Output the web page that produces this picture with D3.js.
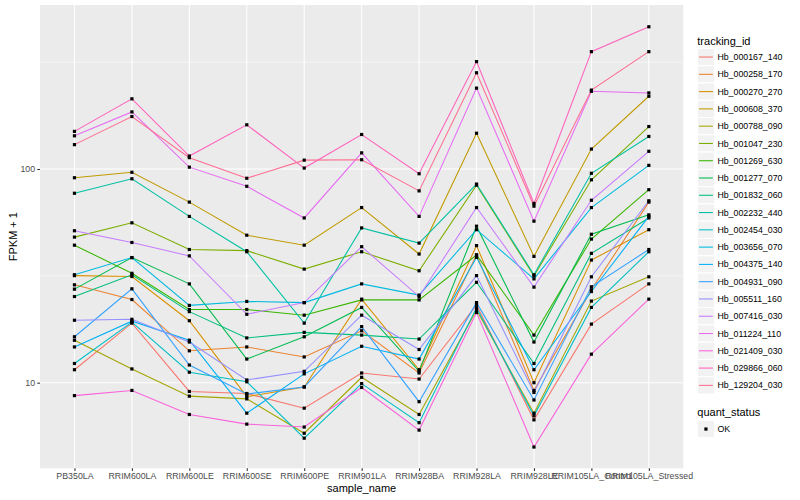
<!DOCTYPE html>
<html>
<head>
<meta charset="utf-8">
<script src="https://cdn.jsdelivr.net/npm/d3@7"></script>
<style>
  html, body { margin: 0; padding: 0; background: #fff; }
  svg { display: block; }
  text { font-family: "Liberation Sans", Arial, Helvetica, sans-serif; }
</style>
</head>
<body>
<svg id="chart" width="800" height="500"></svg>
<script>
// ---- data ----
const samples = ["PB350LA", "RRIM600LA", "RRIM600LE", "RRIM600SE", "RRIM600PE", "RRIM901LA",
  "RRIM928BA", "RRIM928LA", "RRIM928LE", "RRIM105LA_Control", "RRIM105LA_Stressed"];

const trackingIds = ["Hb_000167_140", "Hb_000258_170", "Hb_000270_270", "Hb_000608_370", "Hb_000788_090",
  "Hb_001047_230", "Hb_001269_630", "Hb_001277_070", "Hb_001832_060", "Hb_002232_440",
  "Hb_002454_030", "Hb_003656_070", "Hb_004375_140", "Hb_004931_090", "Hb_005511_160",
  "Hb_007416_030", "Hb_011224_110", "Hb_021409_030", "Hb_029866_060", "Hb_129204_030"];

// FPKM + 1 per sample (same order as samples)
const Hb_000167_140 = [11.5, 19.0, 9.1, 8.9, 7.6, 11.1, 10.4, 23.1, 6.7, 18.8, 29.0];
const Hb_000258_170 = [28.7, 24.5, 14.1, 14.7, 13.2, 17.5, 11.1, 39.6, 9.2, 27.2, 70.0];
const Hb_000270_270 = [31.7, 31.4, 19.5, 8.6, 9.55, 24.6, 11.5, 43.8, 10.0, 37.5, 52.0];
const Hb_000608_370 = [91.0, 96.5, 70.0, 49.0, 44.0, 66.0, 40.0, 147.0, 39.0, 124.0, 219.0];
const Hb_000788_090 = [15.8, 11.6, 8.65, 8.4, 5.8, 10.6, 7.1, 21.9, 7.2, 24.1, 31.3];
const Hb_001047_230 = [48.0, 56.0, 42.0, 41.5, 34.0, 41.0, 33.4, 84.0, 31.6, 89.0, 158.0];
const Hb_001269_630 = [44.0, 32.5, 22.0, 22.0, 20.7, 24.4, 24.4, 39.6, 16.7, 47.0, 80.0];
const Hb_001277_070 = [27.4, 38.5, 29.0, 12.9, 16.4, 22.5, 11.3, 54.0, 15.5, 49.5, 61.0];
const Hb_001832_060 = [25.3, 32.0, 21.5, 16.2, 17.2, 16.7, 16.0, 29.5, 12.3, 40.3, 59.0];
const Hb_002232_440 = [77.0, 90.0, 60.0, 41.0, 19.0, 53.0, 45.0, 85.0, 32.0, 95.5, 142.0];
const Hb_002454_030 = [12.3, 19.2, 11.2, 10.1, 5.5, 9.9, 6.5, 22.4, 7.0, 22.5, 41.0];
const Hb_003656_070 = [32.0, 38.5, 23.0, 24.0, 23.7, 29.0, 25.7, 52.0, 30.6, 66.0, 104.0];
const Hb_004375_140 = [14.7, 19.4, 15.8, 7.2, 11.0, 14.8, 12.9, 38.6, 11.5, 26.7, 60.0];
const Hb_004931_090 = [16.4, 27.5, 12.1, 8.85, 9.55, 18.3, 8.15, 23.7, 8.3, 28.1, 42.0];
const Hb_005511_160 = [19.6, 19.8, 15.5, 10.3, 11.3, 20.7, 14.3, 31.7, 9.0, 31.3, 71.0];
const Hb_007416_030 = [51.4, 45.3, 39.2, 20.9, 23.7, 43.3, 25.3, 66.0, 28.0, 71.4, 121.0];
const Hb_011224_110 = [143.0, 185.0, 102.0, 83.0, 59.0, 119.0, 60.0, 239.0, 57.0, 231.0, 227.0];
const Hb_021409_030 = [8.7, 9.2, 7.1, 6.4, 6.2, 9.5, 6.0, 21.3, 5.0, 13.6, 24.6];
const Hb_029866_060 = [150.0, 213.0, 115.0, 161.0, 101.0, 145.0, 95.0, 318.0, 69.0, 354.0, 463.0];
const Hb_129204_030 = [130.0, 176.0, 113.0, 90.5, 110.0, 110.5, 79.0, 282.0, 67.0, 234.0, 354.0];

const quantStatus = ["OK"];
const yTicks = [10, 100];
const yMinorTicks = [Math.pow(10, 1.5), Math.pow(10, 2.5)];

const seriesValues = [Hb_000167_140, Hb_000258_170, Hb_000270_270, Hb_000608_370, Hb_000788_090,
  Hb_001047_230, Hb_001269_630, Hb_001277_070, Hb_001832_060, Hb_002232_440,
  Hb_002454_030, Hb_003656_070, Hb_004375_140, Hb_004931_090, Hb_005511_160,
  Hb_007416_030, Hb_011224_110, Hb_021409_030, Hb_029866_060, Hb_129204_030];

// ---- style ----
const palette = ["#F8766D", "#EA8331", "#D89000", "#C09B00", "#A3A500", "#7CAE00", "#39B600", "#00BB4E",
  "#00BF7D", "#00C1A3", "#00BFC4", "#00BAE0", "#00B0F6", "#35A2FF", "#9590FF", "#C77CFF",
  "#E76BF3", "#FA62DB", "#FF62BC", "#FF6C91"];

const series = trackingIds.map((id, i) => ({ id, color: palette[i],
  values: seriesValues[i].map((v, j) => ({ sample: samples[j], v })) }));

const svg = d3.select("#chart");
const P = { left: 40, right: 683.3, top: 5, bottom: 468.3 };

const x = d3.scalePoint().domain(samples).range([P.left, P.right]).padding(0.6);
const y = d3.scaleLog().domain([Math.pow(10, 0.5994), Math.pow(10, 2.7674)]).range([P.bottom, P.top]);

// panel
svg.append("rect").attr("x", P.left).attr("y", P.top)
  .attr("width", P.right - P.left).attr("height", P.bottom - P.top).attr("fill", "#EBEBEB");

const grid = svg.append("g");
grid.selectAll("line.minor").data(yMinorTicks).enter().append("line")
  .attr("x1", P.left).attr("x2", P.right)
  .attr("y1", d => y(d)).attr("y2", d => y(d))
  .attr("stroke", "#fff").attr("stroke-width", 0.53);
grid.selectAll("line.majy").data(yTicks).enter().append("line")
  .attr("x1", P.left).attr("x2", P.right)
  .attr("y1", d => y(d)).attr("y2", d => y(d))
  .attr("stroke", "#fff").attr("stroke-width", 1.07);
grid.selectAll("line.majx").data(samples).enter().append("line")
  .attr("x1", d => x(d)).attr("x2", d => x(d))
  .attr("y1", P.top).attr("y2", P.bottom)
  .attr("stroke", "#fff").attr("stroke-width", 1.07);

// axes
const xAxis = d3.axisBottom(x).tickSize(2.74).tickPadding(2.2);
const gx = svg.append("g").attr("transform", `translate(0,${P.bottom})`).call(xAxis);
gx.select(".domain").remove();
gx.selectAll(".tick line").attr("stroke", "#333333").attr("stroke-width", 1.07);
gx.selectAll(".tick text").attr("fill", "#4D4D4D").attr("font-size", 8.8)
  .attr("font-family", "Liberation Sans, Arial, sans-serif");

const yAxis = d3.axisLeft(y).tickValues(yTicks).tickFormat(d3.format("d")).tickSize(2.74).tickPadding(2.2);
const gy = svg.append("g").attr("transform", `translate(${P.left},0)`).call(yAxis);
gy.select(".domain").remove();
gy.selectAll(".tick line").attr("stroke", "#333333").attr("stroke-width", 1.07);
gy.selectAll(".tick text").attr("fill", "#4D4D4D").attr("font-size", 8.8)
  .attr("font-family", "Liberation Sans, Arial, sans-serif");

// lines
const line = d3.line().x(d => x(d.sample)).y(d => y(d.v));
svg.append("g").selectAll("path").data(series).enter().append("path")
  .attr("d", d => line(d.values)).attr("fill", "none")
  .attr("stroke", d => d.color).attr("stroke-width", 1.07);

// points
const pts = series.flatMap(s => s.values);
svg.append("g").selectAll("rect").data(pts).enter().append("rect")
  .attr("x", d => x(d.sample) - 1.6).attr("y", d => y(d.v) - 1.6)
  .attr("width", 3.2).attr("height", 3.2).attr("fill", "#000");

// axis titles
svg.append("text").attr("x", (P.left + P.right) / 2).attr("y", 492)
  .attr("text-anchor", "middle").attr("font-size", 11).attr("fill", "#000").text("sample_name");
svg.append("text").attr("transform", `translate(16.5,${(P.top + P.bottom) / 2}) rotate(-90)`)
  .attr("text-anchor", "middle").attr("font-size", 11).attr("fill", "#000").text("FPKM + 1");

// legend: tracking_id
const L = { x: 697.3, key: 17.28 };
const leg = svg.append("g");
leg.append("text").attr("x", L.x).attr("y", 40.7).attr("dy", "0.35em")
  .attr("font-size", 11).attr("fill", "#000").text("tracking_id");
const keyTop = 48.4;
const items = leg.selectAll("g.item").data(series).enter().append("g")
  .attr("transform", (d, i) => `translate(${L.x},${keyTop + i * L.key})`);
items.append("rect").attr("width", L.key).attr("height", L.key)
  .attr("fill", "#F2F2F2").attr("stroke", "#fff").attr("stroke-width", 1.07);
items.append("line").attr("x1", 1.7).attr("x2", L.key - 1.7)
  .attr("y1", L.key / 2).attr("y2", L.key / 2)
  .attr("stroke", d => d.color).attr("stroke-width", 1.07);
items.append("text").attr("x", L.key + 2.8).attr("y", L.key / 2).attr("dy", "0.35em")
  .attr("font-size", 8.8).attr("fill", "#000").text(d => d.id);

// legend: quant_status
leg.append("text").attr("x", L.x).attr("y", 412.3).attr("dy", "0.35em")
  .attr("font-size", 11).attr("fill", "#000").text("quant_status");
const q = leg.selectAll("g.q").data(quantStatus).enter().append("g")
  .attr("transform", (d, i) => `translate(${L.x},${420.4 + i * L.key})`);
q.append("rect").attr("width", L.key).attr("height", L.key)
  .attr("fill", "#F2F2F2").attr("stroke", "#fff").attr("stroke-width", 1.07);
q.append("rect").attr("x", L.key / 2 - 1.6).attr("y", L.key / 2 - 1.6)
  .attr("width", 3.2).attr("height", 3.2).attr("fill", "#000");
q.append("text").attr("x", L.key + 2.8).attr("y", L.key / 2).attr("dy", "0.35em")
  .attr("font-size", 8.8).attr("fill", "#000").text(d => d);
</script>
</body>
</html>
